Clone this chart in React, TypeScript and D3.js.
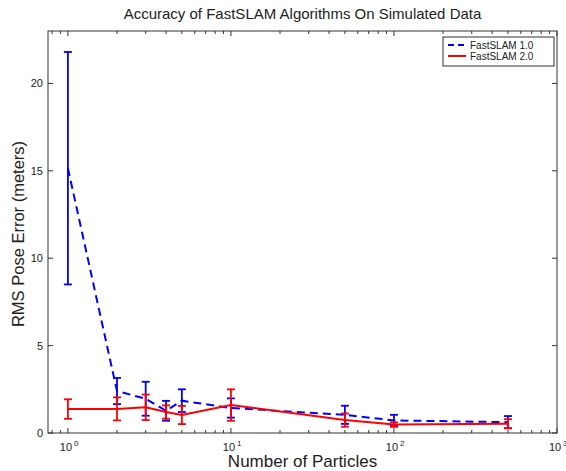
import React from 'react';
import * as d3 from 'd3';

// particle counts
const particles = [1, 2, 3, 4, 5, 10, 50, 100, 500];

// FastSLAM 1.0 mean RMS error and half-width of error bar
const fs1Mean = [15.15, 2.4, 1.96, 1.27, 1.85, 1.43, 1.04, 0.72, 0.62];
const fs1Err = [6.65, 0.75, 0.97, 0.57, 0.65, 0.55, 0.52, 0.32, 0.35];

// FastSLAM 2.0
const fs2Mean = [1.37, 1.38, 1.47, 1.2, 1.03, 1.6, 0.74, 0.48, 0.53];
const fs2Err = [0.56, 0.66, 0.73, 0.38, 0.52, 0.9, 0.38, 0.13, 0.26];

const yTicks = [0, 5, 10, 15, 20];
const xTicks = [1, 10, 100, 1000];

const W = 566;
const H = 471;
const margin = { left: 48, right: 9, top: 31, bottom: 38 };

const App = () => {
  const x = d3.scaleLog().domain([0.755, 1000]).range([margin.left, W - margin.right]);
  const y = d3.scaleLinear().domain([0, 23]).range([H - margin.bottom, margin.top]);
  const x0 = margin.left, x1 = W - margin.right, y0 = H - margin.bottom, y1 = margin.top;

  // minor log ticks 0.8..900
  const minor: number[] = [0.8, 0.9];
  for (let p = 0; p < 3; p++) for (let m = 2; m < 10; m++) minor.push(m * Math.pow(10, p));

  const line = d3.line<number>().x((d, i) => x(particles[i])).y((d) => y(d));

  const series = [
    { name: 'FastSLAM 1.0', mean: fs1Mean, err: fs1Err, color: '#0000ff', dash: '8,5' },
    { name: 'FastSLAM 2.0', mean: fs2Mean, err: fs2Err, color: '#ff0000', dash: null },
  ];

  const font = 'Liberation Sans, Arial, Helvetica, sans-serif';

  return (
    <svg width={W} height={H} style={{ position: 'absolute', left: 0, top: 0, background: '#fff' }} fontFamily={font}>
      <rect x={0} y={0} width={W} height={H} fill="#fff" />
      {/* y ticks */}
      {yTicks.map((t) => (
        <g key={'y' + t}>
          <line x1={x0} x2={x0 + 5} y1={y(t)} y2={y(t)} stroke="#333" />
          <line x1={x1} x2={x1 - 5} y1={y(t)} y2={y(t)} stroke="#333" />
          <text x={x0 - 5} y={y(t) + 4} textAnchor="end" fontSize={11} fill="#222">{t}</text>
        </g>
      ))}
      {/* x major ticks */}
      {xTicks.map((t, i) => (
        <g key={'x' + t}>
          <line x1={x(t)} x2={x(t)} y1={y0} y2={y0 - 5} stroke="#333" />
          <line x1={x(t)} x2={x(t)} y1={y1} y2={y1 + 5} stroke="#333" />
          <text x={x(t) - 2} y={y0 + 18} textAnchor="middle" fontSize={11} fill="#222">10</text>
          <text x={x(t) + 6} y={y0 + 13} fontSize={8} fill="#222">{i}</text>
        </g>
      ))}
      {minor.map((t) => (
        <g key={'m' + t}>
          <line x1={x(t)} x2={x(t)} y1={y0} y2={y0 - 3} stroke="#333" />
          <line x1={x(t)} x2={x(t)} y1={y1} y2={y1 + 3} stroke="#333" />
        </g>
      ))}
      <rect x={x0} y={y1} width={x1 - x0} height={y0 - y1} fill="none" stroke="#333" />

      {series.map((s) => (
        <g key={s.name}>
          <path d={line(s.mean) || ''} fill="none" stroke={s.color} strokeWidth={2} strokeDasharray={s.dash || undefined} />
          {particles.map((p, i) => {
            const cx = x(p), top = y(s.mean[i] + s.err[i]), bot = y(s.mean[i] - s.err[i]);
            return (
              <g key={p} stroke={s.color} strokeWidth={1.8}>
                <line x1={cx} x2={cx} y1={top} y2={bot} />
                <line x1={cx - 4} x2={cx + 4} y1={top} y2={top} />
                <line x1={cx - 4} x2={cx + 4} y1={bot} y2={bot} />
              </g>
            );
          })}
        </g>
      ))}

      {/* legend */}
      <rect x={443} y={37} width={111} height={29} fill="#fff" stroke="#333" />
      {series.map((s, i) => (
        <g key={'l' + s.name}>
          <line x1={448} x2={466} y1={45 + i * 11} y2={45 + i * 11} stroke={s.color} strokeWidth={2} strokeDasharray={s.dash ? '6,4' : undefined} />
          <text x={470} y={48.5 + i * 11} fontSize={10} fill="#222">{s.name}</text>
        </g>
      ))}

      <text x={(x0 + x1) / 2} y={19} textAnchor="middle" fontSize={15} fill="#222">Accuracy of FastSLAM Algorithms On Simulated Data</text>
      <text x={(x0 + x1) / 2} y={467} textAnchor="middle" fontSize={17} fill="#222">Number of Particles</text>
      <text transform={`translate(24,${(y0 + y1) / 2 + 2}) rotate(-90)`} textAnchor="middle" fontSize={16.5} fill="#222">RMS Pose Error (meters)</text>
    </svg>
  );
};

export default App;
